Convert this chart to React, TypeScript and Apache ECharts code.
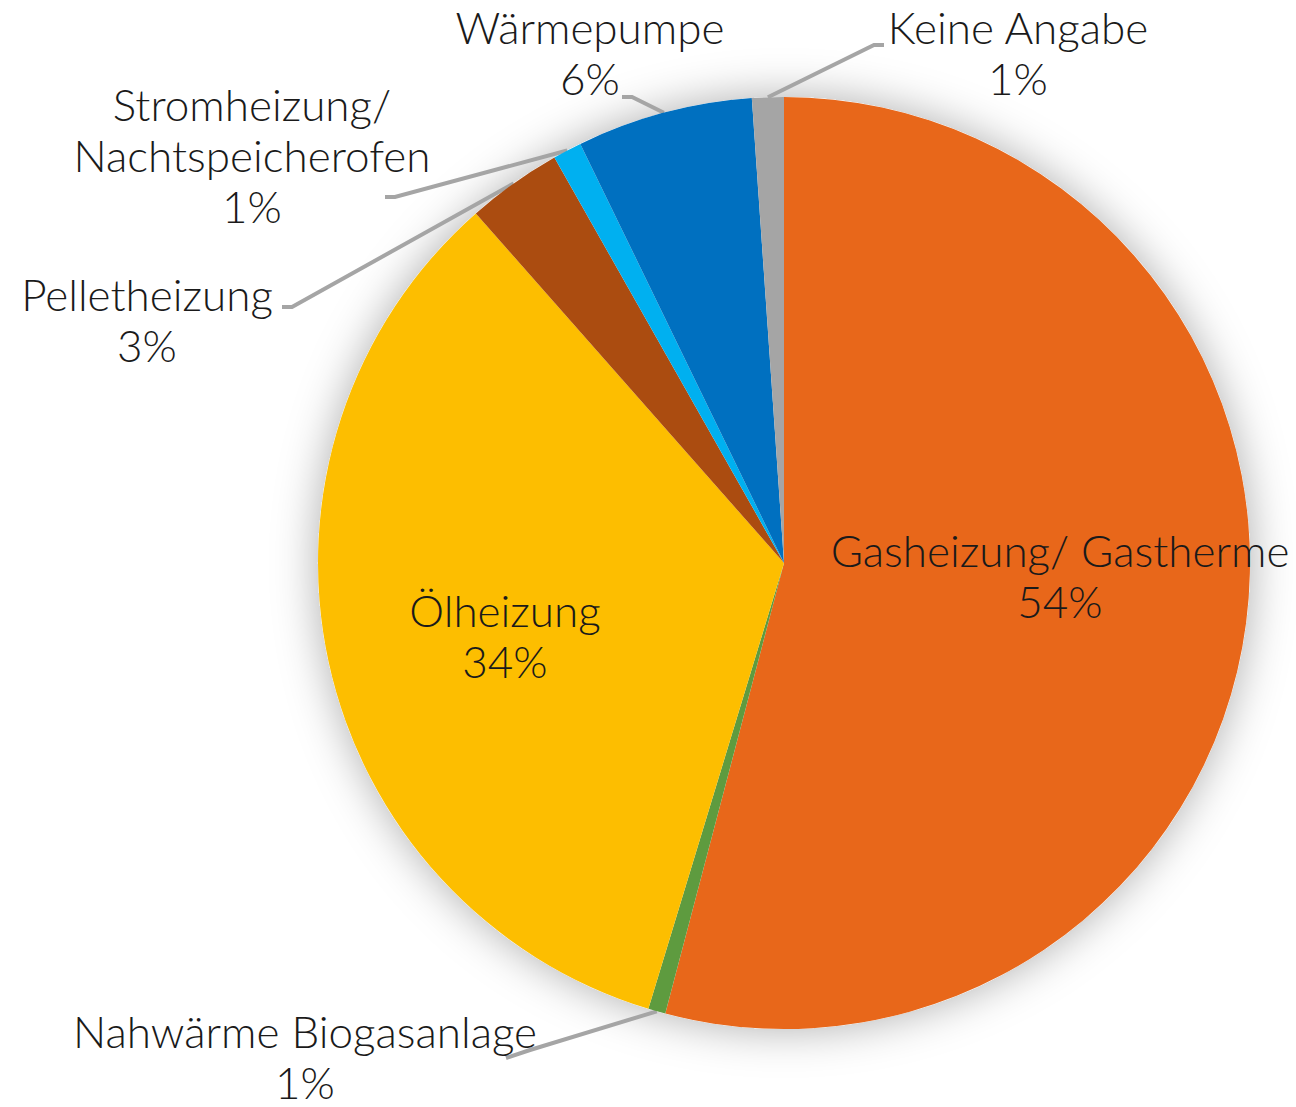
import React, { useEffect, useRef } from "react";
import * as echarts from "echarts";

const categories = [
  "Gasheizung/ Gastherme",
  "Nahwärme Biogasanlage",
  "Ölheizung",
  "Pelletheizung",
  "Stromheizung/\nNachtspeicherofen",
  "Wärmepumpe",
  "Keine Angabe",
];
const values = [54.1, 0.6, 33.8, 3.3, 1.0, 6.1, 1.1];
const colors = ["#E8671A", "#5E9B3F", "#FDBE00", "#AB4C10", "#00B0F0", "#0070C0", "#A5A5A5"];

// label anchor positions (px) and leader line bend/end points
const labelPos: [number, number][] = [
  [1060, 575],
  [305, 1056],
  [505, 635],
  [147, 319],
  [252, 155],
  [590, 52],
  [1018, 52],
];
const leaderPts: ([number, number][] | null)[] = [
  null,
  [[530, 1050], [506, 1058]],
  null,
  [[292, 307], [282, 307]],
  [[395, 197], [385, 197]],
  [[632, 97], [622, 97]],
  [[874, 45], [884, 45]],
];

export default function App() {
  const ref = useRef<HTMLDivElement>(null);
  useEffect(() => {
    document.body.style.margin = "0";
    const chart = echarts.init(ref.current!, undefined, { renderer: "svg" });
    const center = [784, 563];
    const radius = 466;
    chart.setOption({
      animation: false,
      backgroundColor: "#ffffff",
      series: [
        {
          type: "pie",
          silent: true,
          center,
          radius,
          z: 1,
          label: { show: false },
          labelLine: { show: false },
          data: [
            {
              value: 1,
              itemStyle: {
                color: "#ffffff",
                shadowBlur: 45,
                shadowColor: "rgba(0,0,0,0.32)",
              },
            },
          ],
        },
        {
          type: "pie",
          center,
          radius,
          z: 2,
          startAngle: 90,
          clockwise: true,
          avoidLabelOverlap: false,
          label: {
            show: true,
            position: "outside",
            fontFamily: "Lato, 'Open Sans', sans-serif",
            fontWeight: 300,
            fontSize: 44,
            lineHeight: 51,
            color: "#1a1a1a",
            overflow: "none",
            align: "center",
            formatter: (p: any) => `${p.name}\n${Math.round(p.percent)}%`,
          },
          labelLine: {
            show: true,
            lineStyle: { color: "#A5A5A5", width: 4 },
          },
          labelLayout: (p: any) => {
            const i = p.dataIndex;
            const res: any = {
              x: labelPos[i][0],
              y: labelPos[i][1],
              align: "center",
              verticalAlign: "middle",
            };
            const lp = leaderPts[i];
            if (lp && p.labelLinePoints) {
              res.labelLinePoints = [p.labelLinePoints[0], lp[0], lp[1]];
            }
            return res;
          },
          data: categories.map((name, i) => ({
            name,
            value: values[i],
            itemStyle: { color: colors[i] },
            labelLine: { show: leaderPts[i] !== null },
          })),
        },
      ],
    });
    return () => chart.dispose();
  }, []);
  return <div ref={ref} style={{ width: 1296, height: 1107 }} />;
}
